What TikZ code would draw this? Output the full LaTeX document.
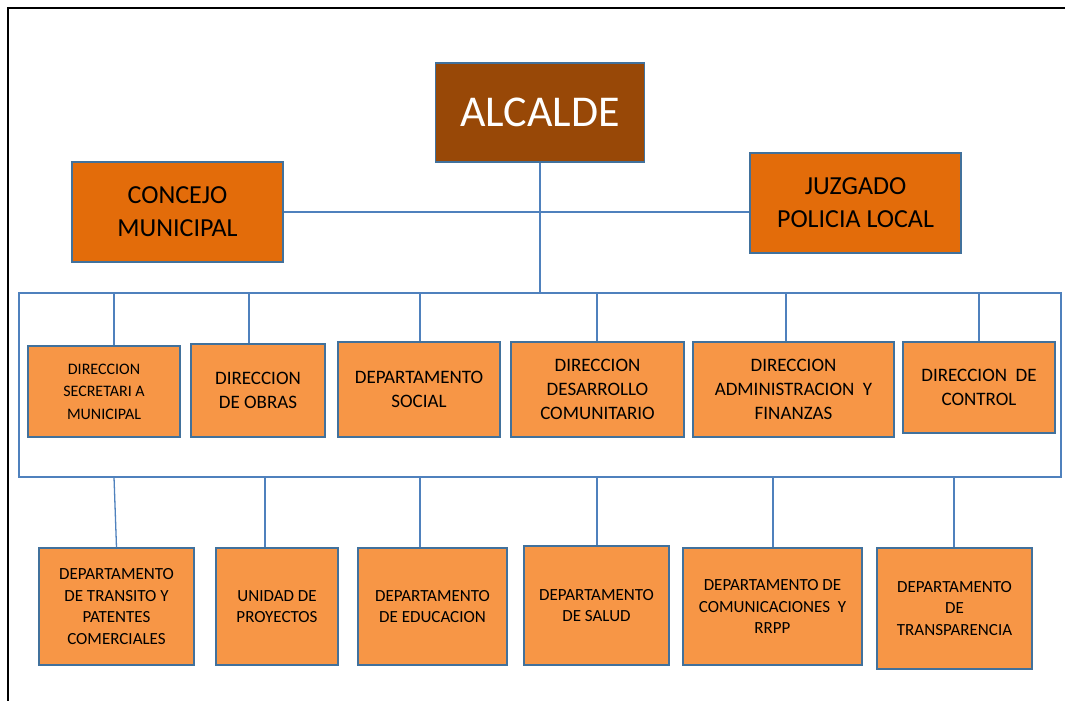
\documentclass[tikz,border=0pt]{standalone}
\usepackage{fontspec}
\setmainfont{Carlito}
\usetikzlibrary{positioning}
\definecolor{cafe}{HTML}{984807}
\definecolor{naranjo}{HTML}{E36C0A}
\definecolor{claro}{HTML}{F79646}
\definecolor{borde}{HTML}{41719C}
\definecolor{linea}{HTML}{4F81BD}

\begin{document}
\begin{tikzpicture}[x=1pt,y=-1pt,
	caja/.style={draw=borde,line width=1.3pt,inner sep=0pt,align=center},
	jefe/.style={caja,fill=cafe,text=white,font=\fontsize{44}{50}\selectfont},
	alto/.style={caja,fill=naranjo,font=\fontsize{26}{33}\selectfont,minimum width=211,minimum height=100},
	dir/.style={caja,fill=claro,font=\fontsize{19}{24}\selectfont},
	dep/.style={caja,fill=claro,font=\fontsize{17}{21.5}\selectfont},
	conector/.style={draw=linea,line width=1.3pt}]
	\useasboundingbox (0,0) rectangle (1065,701);
	\draw[line width=2pt] (8,701) -- (8,8) -- (1065,8);
	% cabeza
	\node[jefe,minimum width=209,minimum height=99] (alcalde) at (540,112.5) {ALCALDE};
	\node[alto] (concejo) at (177.5,212) {CONCEJO\\MUNICIPAL};
	\node[alto] (juzgado) at (855.5,203) {JUZGADO\\POLICIA LOCAL};
	\node[conector,minimum width=1042,minimum height=184,inner sep=0pt] (marco) at (540,385) {};
	\draw[conector] (alcalde.south) -- (alcalde.south |- marco.north);
	\draw[conector] (concejo.east) -- (concejo.east -| juzgado.west);
	% direcciones
	\node[dir,minimum width=152,minimum height=91,font=\fontsize{16}{22.5}\selectfont] (d1) at (104,391.5) {DIRECCION\\SECRETARI A\\MUNICIPAL};
	\node[dir,minimum width=134,minimum height=93] (d2) at (258,390.5) {DIRECCION\\DE OBRAS};
	\node[dir,minimum width=162,minimum height=95] (d3) at (419,389.5) {DEPARTAMENTO\\SOCIAL};
	\node[dir,minimum width=173,minimum height=95] (d4) at (597.5,389.5) {DIRECCION\\DESARROLLO\\COMUNITARIO};
	\node[dir,minimum width=201,minimum height=95] (d5) at (793.5,389.5) {DIRECCION\\ADMINISTRACION\ \ Y\\FINANZAS};
	\node[dir,minimum width=152,minimum height=91] (d6) at (979,387.5) {DIRECCION\ \ DE\\CONTROL};
	\foreach \n/\x in {1/114,2/249,3/420,4/597,5/786,6/979}{
		\coordinate (t\n) at (\x,293);
		\draw[conector] (t\n) -- (t\n |- d\n.north);
	}
	% departamentos
	\node[dep,minimum width=155,minimum height=117] (b1) at (116.5,606.5) {DEPARTAMENTO\\DE TRANSITO Y\\PATENTES\\COMERCIALES};
	\node[dep,minimum width=122,minimum height=117] (b2) at (277,606.5) {UNIDAD DE\\PROYECTOS};
	\node[dep,minimum width=149,minimum height=117] (b3) at (432.5,606.5) {DEPARTAMENTO\\DE EDUCACION};
	\node[dep,minimum width=145,minimum height=119] (b4) at (596.5,605.5) {DEPARTAMENTO\\DE SALUD};
	\node[dep,minimum width=179,minimum height=117] (b5) at (772.5,606.5) {DEPARTAMENTO DE\\COMUNICACIONES\ \ Y\\RRPP};
	\node[dep,minimum width=155,minimum height=121] (b6) at (954.5,608.5) {DEPARTAMENTO\\DE\\TRANSPARENCIA};
	\coordinate (u1) at (114,477);
	\draw[conector] (u1) -- (b1.north);
	\foreach \n/\x in {2/265,3/420,4/597,5/773,6/954}{
		\coordinate (u\n) at (\x,477);
		\draw[conector] (u\n) -- (u\n |- b\n.north);
	}
\end{tikzpicture}
\end{document}
